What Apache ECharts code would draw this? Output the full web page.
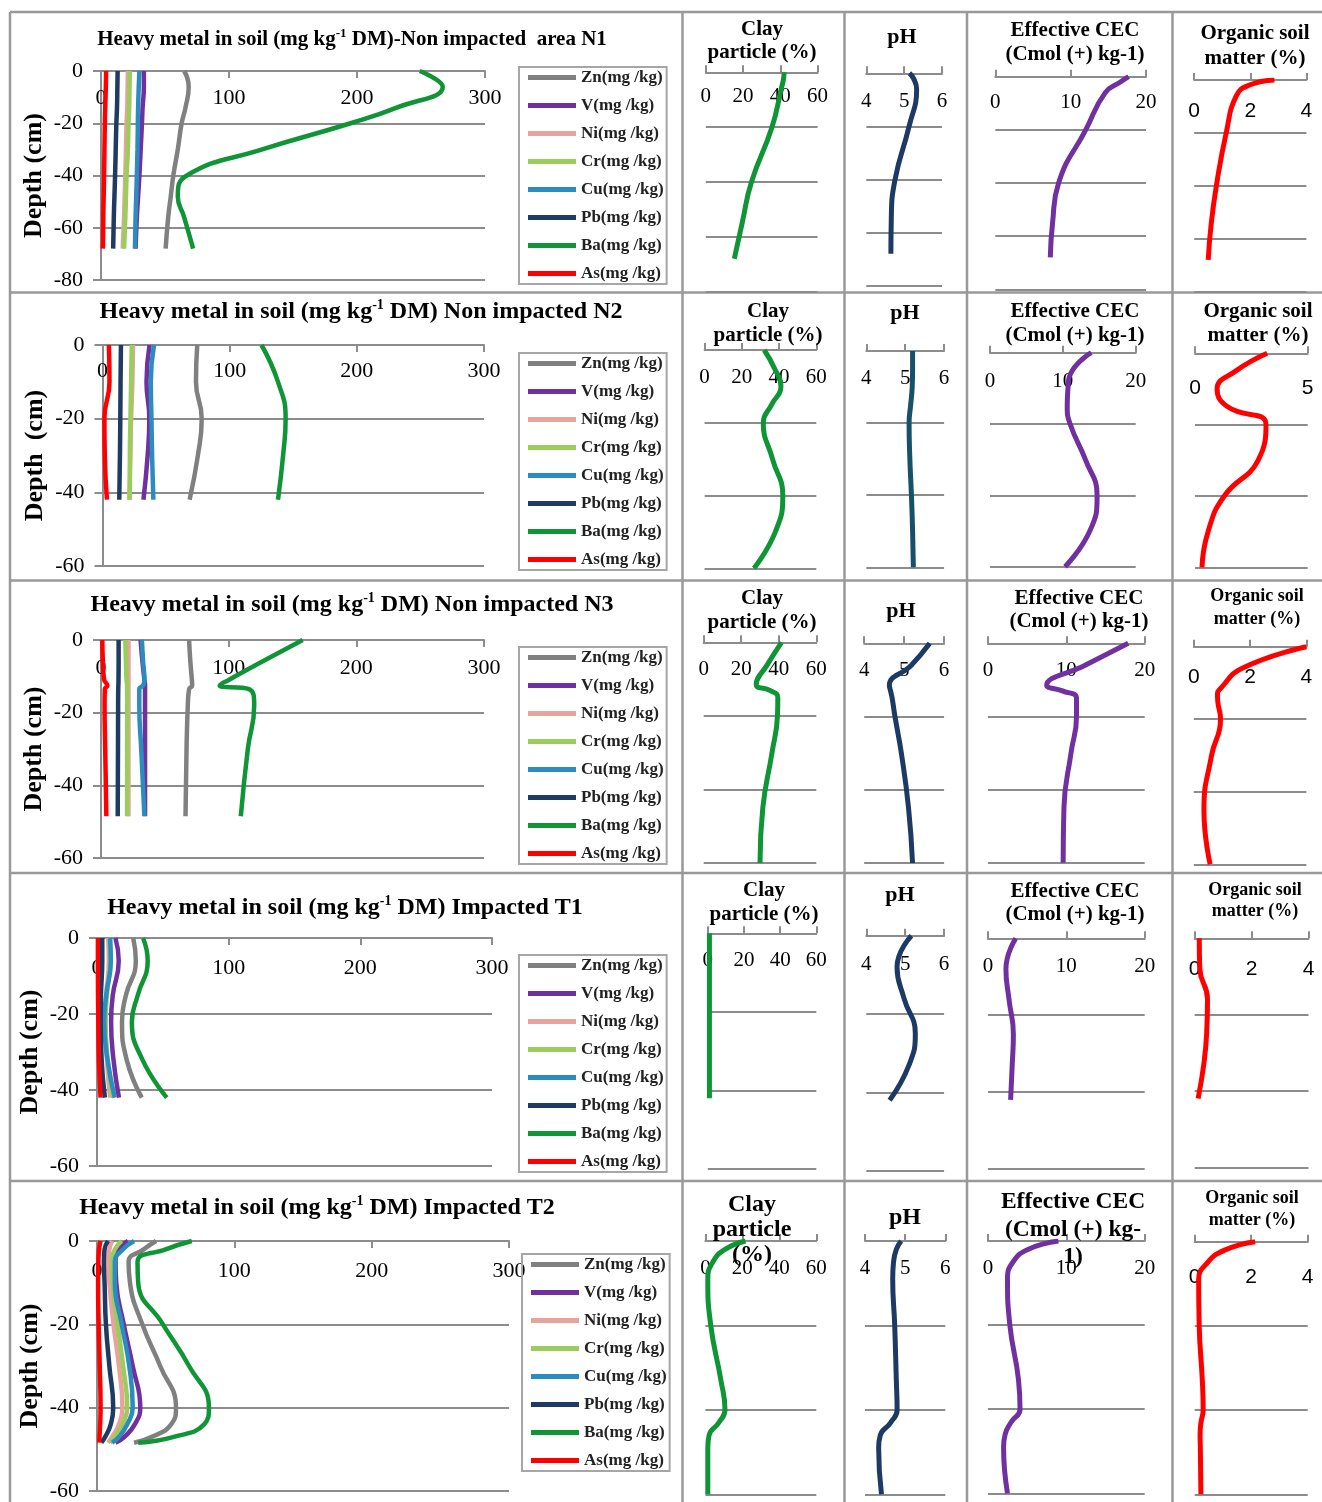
<!DOCTYPE html>
<html>
<head>
<meta charset="utf-8">
<title>Heavy metals and soil properties by depth</title>
<script src="https://cdn.jsdelivr.net/npm/echarts@6/dist/echarts.min.js"></script>
<style>
  html, body { margin: 0; padding: 0; background: #fff; }
  #chart { width: 1322px; height: 1502px; }
</style>
</head>
<body>
<div id="chart"></div>
<script>
// legend entries, in drawing order
const metalNames = ['Zn(mg /kg)', 'V(mg /kg)', 'Ni(mg /kg)', 'Cr(mg /kg)', 'Cu(mg /kg)', 'Pb(mg /kg)', 'Ba(mg /kg)', 'As(mg /kg)'];
const siteTitles = [
  ['Heavy metal in soil (mg kg', ' DM)-Non impacted  area N1'],
  ['Heavy metal in soil (mg kg', ' DM) Non impacted N2'],
  ['Heavy metal in soil (mg kg', ' DM) Non impacted N3'],
  ['Heavy metal in soil (mg kg', ' DM) Impacted T1'],
  ['Heavy metal in soil (mg kg', ' DM) Impacted T2']
];
const depthNames = ['Depth (cm)', 'Depth  (cm)', 'Depth (cm)', 'Depth (cm)', 'Depth (cm)'];

// ---- N1 ----
const n1Depth = [0, -6, -14, -20, -30, -40, -48, -56, -68];
const n1Zn = [65, 68.5, 66, 63, 60, 56.5, 54.5, 52.5, 50.5];
const n1V  = [33.5, 33.5, 32.5, 32, 31, 30, 29, 28, 27];
const n1Ni = [21, 20.8, 20.5, 20, 19.5, 19, 18.5, 18, 17];
const n1Cr = [22.5, 22.3, 22, 21.5, 21, 20, 19.5, 19, 18];
const n1Cu = [30, 29.5, 29, 28.8, 28.5, 28, 27.5, 27, 26.5];
const n1Pb = [13, 12.8, 12.5, 12, 11.5, 11, 10.5, 10, 9.5];
const n1Ba = [249, 267, 231, 195, 126, 67, 60, 65, 72];
const n1As = [4, 3.8, 3.3, 3, 2.7, 2.4, 2.1, 1.8, 1.5];
const n1PropDepth = [0, -2, -6, -20, -40, -55, -68];
const n1Clay = [42, 41.8, 40.5, 35.5, 24.5, 19.5, 15.3];
const n1PH   = [5.14, 5.25, 5.33, 5.13, 4.76, 4.66, 4.65];
const n1CEC  = [17.7, 16.6, 14.6, 12, 8.4, 7.6, 7.3];
const n1OSM  = [2.86, 1.95, 1.5, 1.14, 0.79, 0.6, 0.5];

// ---- N2 ----
const n2Depth = [0, -10, -20, -30, -42];
const n2Zn = [74.5, 73.5, 78, 75, 68.5];
const n2V  = [37, 34.6, 36.8, 35.5, 32.2];
const n2Ni = [24, 23.5, 22.5, 22, 21];
const n2Cr = [23, 22.5, 22, 21.5, 21.5];
const n2Cu = [40.5, 38, 38.5, 39, 40];
const n2Pb = [14.5, 14.2, 14, 13.7, 13.2];
const n2Ba = [125, 138, 144, 142, 138];
const n2As = [5, 5.5, 1.5, 1.8, 3.5];
const n2PropDepth = [0, -5, -10, -15, -20, -30, -40, -50, -60];
const n2Clay = [32, 37.5, 41, 36, 31.5, 36.5, 42, 38, 26.5];
const n2PH   = [5.19, 5.19, 5.18, 5.14, 5.1, 5.12, 5.16, 5.19, 5.21];
const n2CEC  = [13.9, 11.3, 10.7, 10.6, 11, 13.1, 14.7, 13.7, 10.3];
const n2OSM  = [3.2, 1.8, 0.98, 1.45, 3.15, 2.8, 1.3, 0.58, 0.31];

// ---- N3 ----
const n3Depth = [0, -6, -11, -12.5, -13.5, -18, -30, -48.5];
const n3Zn = [69, 70, 71.2, 71.4, 69, 68, 67, 66.2];
const n3V  = [31, 32.5, 34, 34.5, 34.5, 34.5, 34.5, 34.5];
const n3Ni = [21.5, 21.5, 21.5, 21.5, 21.5, 21.5, 21.5, 21.5];
const n3Cr = [19, 19.5, 20, 20.5, 20.5, 20.5, 20.5, 20.5];
const n3Cu = [32, 33, 34, 33, 30, 30, 31.5, 34];
const n3Pb = [13.8, 13.8, 13.7, 13.6, 13.5, 13.4, 13.3, 13.1];
const n3Ba = [158, 126, 100, 93, 116, 120, 115, 109.5];
const n3As = [1, 1.5, 2.5, 5, 3, 2.8, 3.3, 4.2];
const n3PropDepth = [0, -6, -11.5, -13, -15, -20, -30, -45, -60];
const n3Clay = [41.5, 34, 28, 35, 39.5, 39.3, 36.4, 31.5, 30];
const n3PH   = [5.64, 5.18, 4.63, 4.66, 4.7, 4.77, 4.93, 5.11, 5.21];
const n3CEC  = [17.9, 12.4, 7.5, 9.5, 11.3, 11.3, 10.6, 9.7, 9.6];
const n3OSM  = [4, 1.7, 0.95, 0.84, 0.85, 0.95, 0.63, 0.36, 0.58];

// ---- T1 ----
const t1Depth = [0, -6, -15, -22, -32, -42];
const t1Zn = [27.5, 29.5, 22, 19, 22.5, 34];
const t1V  = [14, 16.5, 12, 10.7, 12.5, 16.7];
const t1Ni = [8.5, 9, 7, 6.5, 7.5, 10];
const t1Cr = [9.5, 10, 7.5, 6.5, 8, 12];
const t1Cu = [10, 10.5, 7, 5.5, 8, 13.5];
const t1Pb = [4, 4, 3, 2.8, 3.5, 6];
const t1Ba = [35, 38.5, 31, 26.5, 34.5, 53];
const t1As = [0.7, 0.7, 0.8, 1, 1.5, 2.7];
const t1PropDepth = [0, -8, -16, -25, -33, -42];
const t1Clay = [0.9, 0.9, 0.9, 0.9, 0.9, 0.9];
const t1PH   = [5.16, 4.79, 4.97, 5.26, 5.1, 4.6];
const t1CEC  = [3.55, 2.3, 2.7, 3.25, 3.1, 2.9];
const t1OSM  = [0.16, 0.18, 0.45, 0.42, 0.32, 0.12];

// ---- T2 ----
const t2Depth = [0, -2, -5, -10, -20, -30, -40, -44, -47, -48.4];
const t2Zn = [43, 34, 23, 24, 33, 46, 57.5, 54, 40, 27];
const t2V  = [22.5, 16, 13.5, 14, 19.5, 26, 31.5, 27.5, 20, 13.5];
const t2Ni = [11, 9, 8, 9, 12, 16, 18.5, 16, 11, 8];
const t2Cr = [18, 13, 11, 11.5, 15, 19, 22, 18.5, 13, 9.5];
const t2Cu = [27, 19, 13, 13, 18, 23.5, 26, 22, 16, 11];
const t2Pb = [8, 5.5, 5, 5.5, 6.5, 9, 11.8, 10, 6, 3.2];
const t2Ba = [69, 50, 29.5, 30, 48, 67, 81.5, 78, 56, 30];
const t2As = [2.6, 1.5, 1, 0.8, 1.2, 2, 2.6, 2.3, 1.8, 1.6];
const t2PropDepth = [0, -2, -5, -9, -20, -33, -40, -43, -46, -49, -60];
const t2Clay = [21.7, 10.6, 4, 1.3, 2.9, 8.4, 10.6, 7.3, 2, 1.3, 1.3];
const t2PH   = [4.9, 4.78, 4.71, 4.69, 4.74, 4.78, 4.8, 4.64, 4.38, 4.34, 4.41];
const t2CEC  = [9, 5.1, 3.2, 2.5, 2.8, 3.9, 4.1, 3.0, 2.2, 2.0, 2.5];
const t2OSM  = [2.14, 1.06, 0.45, 0.14, 0.16, 0.27, 0.3, 0.22, 0.19, 0.2, 0.22];

const sites = [
  { depth: n1Depth, metals: [n1Zn, n1V, n1Ni, n1Cr, n1Cu, n1Pb, n1Ba, n1As], propDepth: n1PropDepth, props: [n1Clay, n1PH, n1CEC, n1OSM] },
  { depth: n2Depth, metals: [n2Zn, n2V, n2Ni, n2Cr, n2Cu, n2Pb, n2Ba, n2As], propDepth: n2PropDepth, props: [n2Clay, n2PH, n2CEC, n2OSM] },
  { depth: n3Depth, metals: [n3Zn, n3V, n3Ni, n3Cr, n3Cu, n3Pb, n3Ba, n3As], propDepth: n3PropDepth, props: [n3Clay, n3PH, n3CEC, n3OSM] },
  { depth: t1Depth, metals: [t1Zn, t1V, t1Ni, t1Cr, t1Cu, t1Pb, t1Ba, t1As], propDepth: t1PropDepth, props: [t1Clay, t1PH, t1CEC, t1OSM] },
  { depth: t2Depth, metals: [t2Zn, t2V, t2Ni, t2Cr, t2Cu, t2Pb, t2Ba, t2As], propDepth: t2PropDepth, props: [t2Clay, t2PH, t2CEC, t2OSM] }
];

// ---- styles / layout ----
const metalColors = ['#808080', '#7030a0', '#e6a49c', '#9acd5b', '#2a8cbf', '#1f3b63', '#0f9535', '#ff0000'];
const serif = 'Liberation Serif';
const gray = '#8c8c8c';

const layout = [
  { metal: { left: 101, top: 71, width: 384, height: 209, ymin: -80, lm: 16 }, legend: [519, 67], title: [352, 40, 21],
    props: [[705.8, 817.6, 72.3, 291.7, 14], [866.3, 942, 73.3, 285.7, 18], [995.3, 1146, 76.7, 289.3, 15], [1194.2, 1306.4, 80, 291.7, 21]], ymin: -80 },
  { metal: { left: 102.5, top: 345, width: 381.5, height: 221, ymin: -60, lm: 15.5 }, legend: [519, 353], title: [361, 312, 24],
    props: [[704.6, 816.3, 350, 568.3, 17], [866.3, 944.1, 351, 567.3, 17], [990, 1135.7, 352.7, 566.7, 18], [1195, 1307.7, 353.3, 567.3, 24]], ymin: -60 },
  { metal: { left: 101, top: 640, width: 383, height: 218, ymin: -60, lm: 17 }, legend: [519, 647], title: [352, 605, 24],
    props: [[703.7, 816.3, 642.3, 863, 17], [864.2, 944.1, 643.3, 863, 17], [987.9, 1144.7, 643.3, 862.7, 17], [1193.8, 1306.4, 646.7, 864.3, 20]], ymin: -60 },
  { metal: { left: 97, top: 938, width: 395, height: 228, ymin: -60, lm: 19 }, legend: [519, 955], title: [345, 908, 24],
    props: [[707.8, 816.3, 933.3, 1169, 17], [866.3, 944.1, 935.7, 1170.7, 18], [987.9, 1144.7, 938.3, 1169, 18], [1194.7, 1308.5, 938.3, 1167.3, 20]], ymin: -60 },
  { metal: { left: 97, top: 1241, width: 412, height: 250, ymin: -60, lm: 19.5 }, legend: [522, 1254], title: [317, 1208, 24],
    props: [[705.4, 816.3, 1241, 1494.3, 17], [865, 945.3, 1241, 1494.3, 17], [987.9, 1144.7, 1241, 1493.3, 17], [1194.7, 1307.7, 1241.7, 1494.3, 25]], ymin: -60 }
];

// property axes: [min, max, interval]
const propAxes = [[0, 60, 20], [4, 6, 1], [0, 20, 10], [0, 4, 2]];
const propColors = ['#0f9535', '#1c3a63', '#7030a0', '#ff0000'];

// property titles per row: [text, cx, cy, fontSize, lineHeight]
const propTitles = [
  [['Clay\nparticle (%)', 762, 41.5, 21, 23], ['pH', 902, 37, 22, 23], ['Effective CEC\n(Cmol (+) kg-1)', 1075, 43, 21, 24], ['Organic soil\nmatter (%)', 1255, 46.5, 21, 25]],
  [['Clay\nparticle (%)', 768, 324, 21, 24], ['pH', 905, 313, 22, 23], ['Effective CEC\n(Cmol (+) kg-1)', 1075, 323.5, 21, 24], ['Organic soil\nmatter (%)', 1258, 323.5, 21, 24]],
  [['Clay\nparticle (%)', 762, 610.5, 21, 24], ['pH', 901, 611.7, 22, 23], ['Effective CEC\n(Cmol (+) kg-1)', 1079, 610, 21, 23.5], ['Organic soil\nmatter (%)', 1257, 608, 18, 22.5]],
  [['Clay\nparticle (%)', 764, 902.5, 21, 23.5], ['pH', 900, 895, 22, 23], ['Effective CEC\n(Cmol (+) kg-1)', 1075, 903.3, 21, 23.5], ['Organic soil\nmatter (%)', 1255, 901, 18, 21]],
  [['Clay\nparticle\n(%)', 752, 1230, 24, 25], ['pH', 905, 1218, 24, 25], ['Effective CEC\n(Cmol (+) kg-\n1)', 1073, 1229.5, 23.5, 27.5], ['Organic soil\nmatter (%)', 1252, 1209, 18, 22]]
];

const grid = [], xAxis = [], yAxis = [], series = [], legend = [], title = [];

sites.forEach((site, r) => {
  const L = layout[r];
  const m = L.metal;
  let gi = grid.length;
  grid.push({ left: m.left, top: m.top, width: m.width, height: m.height });
  xAxis.push({
    gridIndex: gi, type: 'value', position: 'top', min: 0, max: 300, interval: 100,
    axisLine: { show: true, onZero: false, lineStyle: { color: gray, width: 2 } },
    axisTick: { show: true, inside: true, length: 7, lineStyle: { color: gray, width: 2 } },
    axisLabel: { inside: true, margin: m.lm, fontFamily: serif, fontSize: 22, color: '#000' },
    splitLine: { show: false }
  });
  yAxis.push({
    gridIndex: gi, type: 'value', min: m.ymin, max: 0, interval: 20,
    name: depthNames[r], nameLocation: 'middle', nameGap: 54,
    nameTextStyle: { fontFamily: serif, fontWeight: 'bold', fontSize: 26, color: '#000' },
    axisLine: { show: true, onZero: false, lineStyle: { color: gray, width: 2 } },
    axisTick: { show: true, length: 8, lineStyle: { color: gray, width: 2 } },
    axisLabel: { margin: 18, fontFamily: serif, fontSize: 22, color: '#000' },
    splitLine: { show: true, lineStyle: { color: gray, width: 2 } }
  });
  metalNames.forEach((name, k) => {
    series.push({
      name, type: 'line', xAxisIndex: gi, yAxisIndex: gi, smooth: true, symbol: 'none',
      lineStyle: { color: metalColors[k], width: 4.5 }, itemStyle: { color: metalColors[k] },
      data: site.depth.map((d, i) => [site.metals[k][i], d])
    });
  });
  legend.push({
    data: metalNames, left: L.legend[0], top: L.legend[1], orient: 'vertical',
    icon: 'rect', itemWidth: 48, itemHeight: 5, itemGap: 11,
    padding: [2, 3, 2, 9], borderColor: '#a6a6a6', borderWidth: 2,
    textStyle: { fontFamily: serif, fontWeight: 'bold', fontSize: 17, lineHeight: 16, color: '#222' }
  });
  const fs = L.title[2];
  title.push({
    text: '{t|' + siteTitles[r][0] + '}{s|-1}{t|' + siteTitles[r][1] + '}',
    left: L.title[0], top: L.title[1], padding: 0,
    textAlign: 'center', textVerticalAlign: 'middle',
    textStyle: {
      rich: {
        t: { fontFamily: serif, fontWeight: 'bold', fontSize: fs, lineHeight: fs + 4, color: '#000' },
        s: { fontFamily: serif, fontWeight: 'bold', fontSize: Math.round(fs * 0.6), lineHeight: 10, verticalAlign: 'top', color: '#000' }
      }
    }
  });

  // soil property panels
  L.props.forEach((p, j) => {
    const pi = grid.length;
    const ax = (r === 1 && j === 3) ? [0, 5, 5] : propAxes[j];
    grid.push({ left: p[0], top: p[2], width: p[1] - p[0], height: p[3] - p[2] });
    xAxis.push({
      gridIndex: pi, type: 'value', position: 'top', min: ax[0], max: ax[1], interval: ax[2],
      axisLine: { show: true, onZero: false, lineStyle: { color: gray, width: 2 } },
      axisTick: { show: true, inside: false, length: 7, lineStyle: { color: gray, width: 2 } },
      axisLabel: {
        inside: true, margin: p[4], color: '#000',
        fontFamily: j === 3 ? 'Liberation Sans' : serif, fontSize: 21
      },
      splitLine: { show: false }
    });
    yAxis.push({
      gridIndex: pi, type: 'value', min: L.ymin, max: 0, interval: 20,
      axisLine: { show: false }, axisTick: { show: false }, axisLabel: { show: false },
      splitLine: { show: true, lineStyle: { color: gray, width: 2 } }
    });
    const col = (r === 1 && j === 1) ? '#17506b' : propColors[j];
    series.push({
      name: 'prop' + r + '_' + j, type: 'line', xAxisIndex: pi, yAxisIndex: pi, smooth: true, symbol: 'none',
      lineStyle: { color: col, width: 5 }, itemStyle: { color: col },
      data: site.propDepth.map((d, i) => [site.props[j][i], d])
    });
    const t = propTitles[r][j];
    title.push({
      text: t[0], left: t[1], top: t[2], padding: 0, textAlign: 'center', textVerticalAlign: 'middle',
      textStyle: { fontFamily: serif, fontWeight: 'bold', fontSize: t[3], lineHeight: t[4], color: '#000' }
    });
  });
});

// table rules
const rules = [];
const border = { stroke: '#999', lineWidth: 2.5 };
[12, 292.5, 580.5, 873, 1181].forEach(y => rules.push({ type: 'line', shape: { x1: 10, y1: y, x2: 1322, y2: y }, style: border, z: -1 }));
[10, 682.5, 844.5, 967, 1172.5].forEach(x => rules.push({ type: 'line', shape: { x1: x, y1: 12, x2: x, y2: 1502 }, style: border, z: -1 }));

const chart = echarts.init(document.getElementById('chart'));
chart.setOption({
  animation: false,
  backgroundColor: '#fff',
  title, grid, xAxis, yAxis, series, legend,
  graphic: rules
});
</script>
</body>
</html>
